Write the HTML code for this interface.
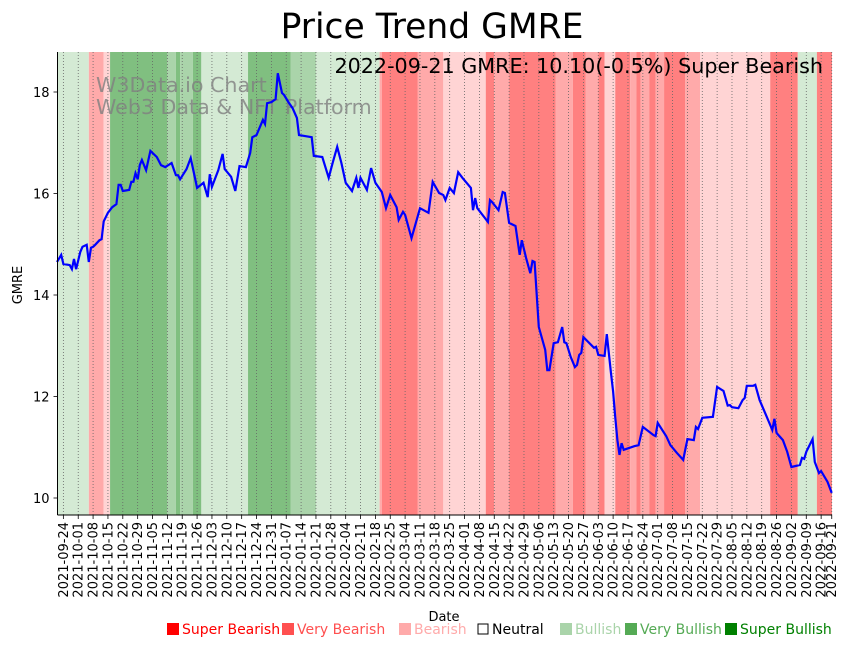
<!DOCTYPE html>
<html><head><meta charset="utf-8"><style>
body{margin:0;background:#fff}
svg{display:block;font-family:"DejaVu Sans","Liberation Sans",sans-serif}
</style></head><body>
<svg id="chart" width="851" height="646" viewBox="0 0 851 646">
<text x="432" y="38" font-size="34.5" text-anchor="middle">Price Trend GMRE</text>
<g id="bands"></g>
<g id="grid"></g>
<g id="wm" fill="#808080" fill-opacity="0.8" font-size="20.6">
<text x="96" y="92">W3Data.io Chart</text><text x="96" y="114">Web3 Data &amp; NFT Platform</text></g>
<path id="line" fill="none" stroke="#0000ff" stroke-width="2.2"/>
<text x="823" y="73" font-size="20.7" text-anchor="end">2022-09-21 GMRE: 10.10(-0.5%) Super Bearish</text>
<g id="axes"></g>
<text x="444" y="621" font-size="13" text-anchor="middle">Date</text>
<text transform="translate(22,285) rotate(-90)" font-size="13" text-anchor="middle">GMRE</text>
<g id="legend" font-size="14"></g>
</svg>
<script>
const priceDays=[0,2,3,6,7,8,9,11,12,14,15,16,17,18,20,21,22,24,26,28,29,30,31,34,35,36,37,38,39,40,42,44,47,49,51,54,56,57,58,61,63,66,69,71,72,73,76,78,79,82,84,86,89,91,92,94,97,98,99,101,103,104,106,107,109,111,113,114,120,121,125,128,130,132,134,136,139,141,142,143,146,148,150,153,155,157,160,161,163,164,167,171,175,177,180,182,183,185,187,189,191,195,196,197,198,203,204,205,208,210,211,213,216,218,219,221,223,224,225,227,230,231,232,234,236,238,239,240,242,244,245,246,247,248,253,254,255,258,259,261,262,263,264,265,266,267,272,274,276,281,282,283,287,289,292,295,297,300,301,302,304,309,311,314,316,317,318,321,323,324,325,328,329,331,334,337,338,339,342,344,346,350,351,352,353,356,357,359,360,363,365];
const priceValues=[14.65,14.79,14.61,14.59,14.51,14.71,14.51,14.85,14.95,14.99,14.65,14.93,14.95,14.99,15.08,15.10,15.45,15.62,15.73,15.79,16.17,16.17,16.05,16.07,16.23,16.23,16.40,16.28,16.56,16.66,16.46,16.84,16.72,16.56,16.52,16.60,16.36,16.36,16.28,16.48,16.70,16.11,16.21,15.93,16.38,16.13,16.46,16.78,16.48,16.33,16.05,16.54,16.52,16.80,17.11,17.15,17.45,17.37,17.78,17.80,17.86,18.37,17.98,17.94,17.80,17.68,17.49,17.15,17.11,16.74,16.72,16.31,16.62,16.92,16.60,16.21,16.05,16.31,16.11,16.31,16.07,16.50,16.21,16.03,15.71,15.97,15.73,15.48,15.64,15.58,15.12,15.71,15.62,16.23,16.01,15.97,15.87,16.11,16.01,16.42,16.31,16.11,15.67,15.91,15.71,15.44,15.87,15.83,15.67,16.03,16.01,15.42,15.36,14.79,15.08,14.73,14.43,14.67,14.65,13.37,12.92,12.52,12.52,13.05,13.07,13.37,13.07,13.05,12.78,12.58,12.62,12.82,12.86,13.17,12.96,12.98,12.82,12.80,13.23,12.46,12.10,11.60,11.14,10.85,11.08,10.95,11.02,11.04,11.40,11.24,11.22,11.48,11.22,11.04,10.89,10.75,11.16,11.14,11.40,11.36,11.58,11.60,12.19,12.11,11.82,11.83,11.79,11.77,11.93,11.97,12.21,12.21,12.23,11.93,11.64,11.34,11.56,11.28,11.14,10.91,10.61,10.65,10.79,10.77,10.91,11.16,10.71,10.49,10.53,10.32,10.10];
const bandStarts=[0,15,22,25,52,56,58,64,68,90,110,122,152,153,170,182,202,206,213,235,243,249,255,258,263,270,273,275,279,282,286,296,303,336,349,358];
const bandLevels=[1,-2,-1,3,2,3,2,3,1,3,2,1,-2,-3,-2,-1,-3,-2,-3,-2,-3,-2,-3,-1,-3,-2,-3,-2,-3,-2,-3,-2,-1,-3,1,-3];
const yTicks=[10,12,14,16,18];
const xTickLabels=["2021-09-24","2021-10-01","2021-10-08","2021-10-15","2021-10-22","2021-10-29","2021-11-05","2021-11-12","2021-11-19","2021-11-26","2021-12-03","2021-12-10","2021-12-17","2021-12-24","2021-12-31","2022-01-07","2022-01-14","2022-01-21","2022-01-28","2022-02-04","2022-02-11","2022-02-18","2022-02-25","2022-03-04","2022-03-11","2022-03-18","2022-03-25","2022-04-01","2022-04-08","2022-04-15","2022-04-22","2022-04-29","2022-05-06","2022-05-13","2022-05-20","2022-05-27","2022-06-03","2022-06-10","2022-06-17","2022-06-24","2022-07-01","2022-07-08","2022-07-15","2022-07-22","2022-07-29","2022-08-05","2022-08-12","2022-08-19","2022-08-26","2022-09-02","2022-09-09","2022-09-16","2022-09-21"];
const legendLabels=["Super Bearish","Very Bearish","Bearish","Neutral","Bullish","Very Bullish","Super Bullish"];

const NS="http://www.w3.org/2000/svg";
const X0=57.5,X1=832,Y0=52,Y1=515;
const startDate=Date.UTC(2021,8,21);
function xs(d){return 57+d*2.1226;}
function ys(v){return 92+(18-v)*50.75;}
function dayOf(s){const p=s.split('-');return Math.round((Date.UTC(+p[0],+p[1]-1,+p[2])-startDate)/86400000);}
function mk(tag,attrs,parent){const e=document.createElementNS(NS,tag);for(const k in attrs)e.setAttribute(k,attrs[k]);parent.appendChild(e);return e;}
const bgColor={"-3":"#ff8080","-2":"#ffaaaa","-1":"#ffd4d4","1":"#d4ead4","2":"#aad4aa","3":"#80bf80"};
const bands=document.getElementById('bands');
for(let i=0;i<bandStarts.length;i++){
  const a=Math.max(X0,xs(bandStarts[i])),b=i+1<bandStarts.length?xs(bandStarts[i+1]):X1;
  const r=mk('rect',{x:a,y:Y0,width:Math.min(b,X1)-a,height:Y1-Y0,fill:bgColor[bandLevels[i]]},bands);
  
  
}
const grid=document.getElementById('grid'),axes=document.getElementById('axes');
xTickLabels.forEach(s=>{
  const x=xs(dayOf(s));
  const g=mk('line',{x1:x,x2:x,y1:Y0,y2:Y1,stroke:'#666','stroke-width':0.8,'stroke-dasharray':'1,2'},grid);
  
  
  mk('line',{x1:x,x2:x,y1:Y1,y2:Y1+4,stroke:'#000','stroke-width':0.8},axes);
  const t=mk('text',{transform:`translate(${x+4.5},${Y1+7}) rotate(-90)`,'font-size':13,'text-anchor':'end'},axes);
  t.textContent=s;
  
  
});
yTicks.forEach(v=>{
  const y=ys(v);
  mk('line',{x1:X0-4,x2:X0,y1:y,y2:y,stroke:'#000','stroke-width':0.8},axes);
  const t=mk('text',{x:X0-8,y:y+5,'font-size':13,'text-anchor':'end'},axes);
  t.textContent=v;
  
  
});
mk('line',{x1:X0,x2:X0,y1:Y0,y2:Y1,stroke:'#000','stroke-width':1},axes);
mk('line',{x1:X0,x2:X1,y1:Y1,y2:Y1,stroke:'#000','stroke-width':1},axes);
document.getElementById('line').setAttribute('d',priceDays.map((d,i)=>(i?'L':'M')+xs(d).toFixed(1)+','+ys(priceValues[i]).toFixed(1)).join(''));
const legColors=["#ff0000","#ff5050","#ffaaaa","#000000","#aad4aa","#55aa55","#008000"];
const legX=[167,282,399,477,560,625,725];
const leg=document.getElementById('legend');
legendLabels.forEach((l,i)=>{
  const g=mk('g',{},leg);
  
  
  if(i===3)mk('rect',{x:legX[i]+1,y:624,width:10,height:10,fill:'none',stroke:'#000'},g);
  else mk('rect',{x:legX[i],y:623,width:12,height:12,fill:legColors[i]},g);
  const t=mk('text',{x:legX[i]+15,y:634,fill:legColors[i]},g);
  t.textContent=l;
});
</script>
</body></html>
